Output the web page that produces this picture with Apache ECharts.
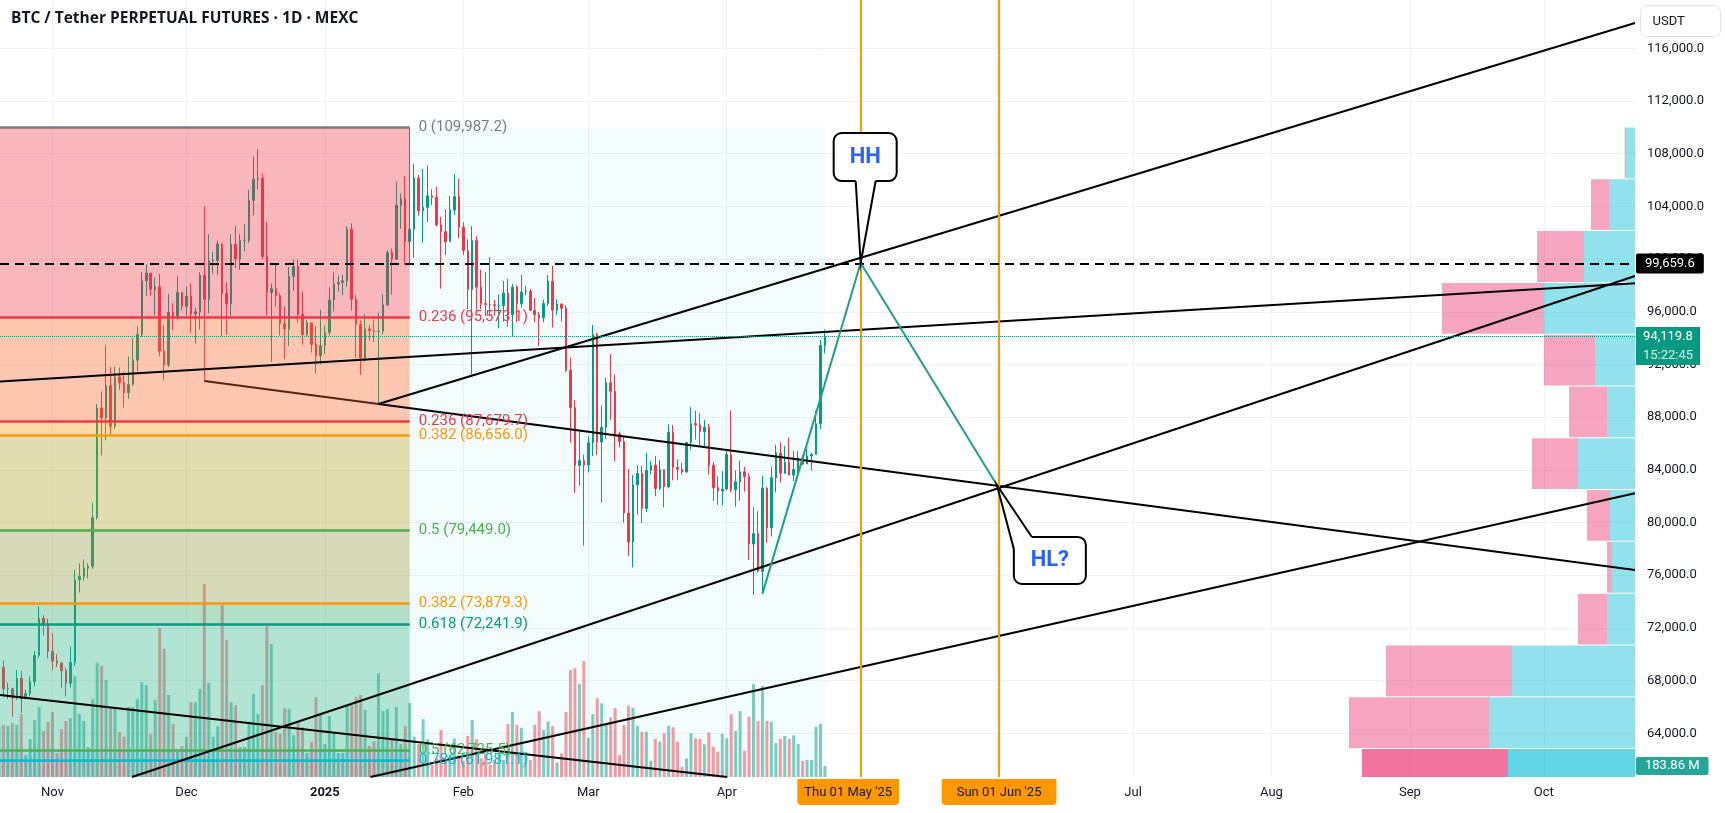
<!DOCTYPE html>
<html lang="en">
<head>
<meta charset="utf-8">
<title>BTC / Tether PERPETUAL FUTURES · 1D · MEXC</title>
<script src="https://cdn.jsdelivr.net/npm/echarts@6.0.0/dist/echarts.min.js"></script>
<style>
    html, body { margin: 0; padding: 0; background: #ffffff; }
    #chart { width: 1725px; height: 813px; }
</style>
</head>
<body>
<div id="chart"></div>
<script>
// 横轴用距 2024-11-01 的天数

// 日K线 2024-10-20 (第 -12 天) 到 2025-04-23, [open, high, low, close]
var firstDay = -12;
var ohlc = [
    [68360, 69400, 68100, 69000], [69000, 69500, 66800, 67370], [67370, 67850, 66600, 67380],
    [67380, 67450, 65260, 66680], [66680, 68800, 66550, 68160], [68160, 68750, 65550, 66640],
    [66640, 67300, 66580, 67010], [67010, 68300, 66800, 67930], [67930, 70250, 67550, 69900],
    [69900, 73620, 69740, 72720], [72720, 72970, 71440, 72340], [72340, 72700, 69690, 70220],
    // Nov
    [70220, 71600, 68780, 69480], [69480, 70000, 69040, 69330], [69330, 69400, 67460, 68750],
    [68750, 69000, 66800, 67800], [67800, 70570, 67470, 69370], [69370, 76400, 69100, 75640],
    [75640, 76900, 74700, 75900], [75900, 77200, 75570, 76540], [76540, 76900, 75750, 76670],
    [76670, 81500, 76480, 80370], [80370, 89000, 80230, 88700], [88700, 89950, 85080, 87950],
    [87950, 93480, 86250, 90400], [90400, 91800, 86700, 87300], [87300, 91850, 87100, 91050],
    [91050, 91770, 90050, 90600], [90600, 91450, 88720, 89850], [89850, 92600, 89400, 90470],
    [90470, 94000, 90400, 92320], [92320, 94900, 91500, 94290], [94290, 99000, 94110, 98350],
    [98350, 99600, 97200, 98920], [98920, 98950, 97200, 97700], [97700, 98600, 95730, 97900],
    [97900, 98880, 92600, 93010], [93010, 94970, 90790, 91960], [91960, 97360, 91800, 95960],
    [95960, 96650, 94600, 95640], [95640, 98700, 95350, 97460], [97460, 97480, 96100, 96410],
    // Dec
    [96410, 97900, 95700, 97190], [97190, 98150, 94400, 95840], [95840, 96300, 93580, 96000],
    [96000, 99000, 94650, 98770], [98770, 104000, 90700, 96950], [96950, 101900, 95900, 99870],
    [99870, 100550, 98900, 99900], [99900, 101400, 98800, 101150], [101150, 101200, 94150, 97380],
    [97380, 98250, 94250, 96600], [96600, 101880, 95650, 101110], [101110, 102540, 99300, 100000],
    [100000, 101900, 99200, 101420], [101420, 102650, 100600, 101420], [101420, 105250, 101230, 104460],
    [104460, 107800, 103330, 106060], [106060, 108350, 105300, 106130], [106130, 106500, 100000, 100200],
    [100200, 102800, 95700, 97460], [97460, 98150, 92200, 97750], [97750, 99540, 96400, 97220],
    [97220, 97400, 94200, 95100], [95100, 96400, 92400, 94690], [94690, 99400, 93400, 98680],
    [98680, 99960, 97600, 99430], [99430, 99950, 95150, 95800], [95800, 97550, 93500, 94270],
    [94270, 95400, 94100, 95160], [95160, 95200, 92900, 93530], [93530, 94900, 91300, 92640],
    [92640, 96150, 92000, 93430],
    // Jan
    [93430, 94950, 92800, 94420], [94420, 97850, 94200, 96890], [96890, 98980, 96020, 98110],
    [98110, 98750, 97530, 98230], [98230, 98800, 97270, 98350], [98350, 102500, 97900, 102280],
    [102280, 102720, 96100, 96950], [96950, 97250, 92500, 95040], [95040, 95350, 91200, 92490],
    [92490, 95830, 92200, 94700], [94700, 95000, 93800, 94560], [94560, 95400, 93700, 94500],
    [94500, 95900, 89050, 94520], [94520, 97350, 94300, 96530], [96530, 100700, 96450, 100500],
    [100500, 100800, 97300, 99990], [99990, 105900, 99950, 104080], [104080, 104980, 102300, 104560],
    [104560, 106300, 99600, 101330], [101330, 109987.2, 99550, 102260], [102260, 107250, 100100, 106140],
    [106140, 106400, 103300, 103660], [103660, 106850, 101250, 103930], [103930, 107100, 102800, 104800],
    [104800, 105300, 104100, 104700], [104700, 105500, 102500, 102600], [102600, 103200, 97750, 102080],
    [102080, 103800, 100300, 101330], [101330, 104800, 101300, 103730], [103730, 106450, 103350, 104740],
    [104740, 106100, 101600, 102430],
    // Feb
    [102430, 102800, 100300, 100640], [100640, 101500, 96200, 97690], [97690, 102500, 91230, 101400],
    [101400, 101750, 96150, 97870], [97870, 99200, 96200, 96620], [96620, 99000, 95650, 96560],
    [96560, 100150, 95650, 96540], [96540, 96900, 95700, 96480], [96480, 97300, 94750, 96480],
    [96480, 98340, 95250, 97430], [97430, 98500, 94850, 95780], [95780, 98120, 94100, 97870],
    [97870, 98000, 95200, 96620], [96620, 98800, 96300, 97500], [97500, 97970, 97250, 97570],
    [97570, 97730, 96050, 96120], [96120, 97050, 95200, 95770], [95770, 96000, 93400, 95540],
    [95540, 96900, 95200, 96630], [96630, 98780, 96450, 98330], [98330, 99500, 94800, 96130],
    [96130, 96950, 95750, 96580], [96580, 96660, 95250, 96270], [96270, 96500, 91400, 91550],
    [91550, 92500, 86050, 88730], [88730, 89300, 82250, 84340], [84340, 87050, 82800, 84700],
    [84700, 85150, 78250, 84370],
    // Mar
    [84370, 86550, 83800, 86060], [86060, 95000, 85050, 94270], [94270, 94420, 85120, 86120],
    [86120, 88900, 81500, 87220], [87220, 91000, 86350, 90620], [90620, 92800, 87800, 89960],
    [89960, 91250, 84650, 86740], [86740, 86900, 85700, 86150], [86150, 86500, 80000, 80730],
    [80730, 84050, 77450, 78530], [78530, 83600, 76600, 82860], [82860, 84350, 80600, 83720],
    [83720, 84300, 79950, 81070], [81070, 85300, 80800, 83960], [83960, 84670, 83650, 84340],
    [84340, 85050, 82000, 82580], [82580, 84750, 82450, 84010], [84010, 84020, 81150, 82720],
    [82720, 87450, 82600, 86850], [86850, 87400, 83200, 84170], [84170, 84800, 83200, 84040],
    [84040, 84550, 83650, 83830], [83830, 86100, 83800, 86080], [86080, 88750, 85550, 87500],
    [87500, 88500, 86300, 87400], [87400, 88300, 85850, 86900], [86900, 87800, 85800, 87230],
    [87230, 87500, 83650, 84350], [84350, 84600, 81650, 82650], [82650, 83500, 81350, 82390],
    [82390, 83900, 81300, 82550],
    // Apr
    [82550, 85500, 82450, 85160], [85160, 88500, 82300, 82500], [82500, 83950, 81200, 83100],
    [83100, 84700, 81650, 83850], [83850, 84230, 82350, 83500], [83500, 83750, 77150, 78370],
    [78370, 81200, 74500, 79150], [79150, 80850, 76200, 76300], [76300, 83550, 74600, 82600],
    [82600, 82700, 78450, 79600], [79600, 84250, 78950, 83400], [83400, 85900, 82300, 85280],
    [85280, 86100, 83050, 83750], [83750, 85800, 83700, 84550], [84550, 86450, 83600, 83600],
    [83600, 85450, 83150, 84030], [84030, 85450, 83750, 84900], [84900, 85100, 84350, 84450],
    [84450, 85600, 84450, 85060], [85060, 85300, 83950, 85170], [85170, 88500, 85150, 87500],
    [87500, 93850, 87100, 93440], [93440, 94650, 92850, 94119.8]
];

// 成交量 (M)
var volumes = [
    835, 870, 850, 900, 870, 1050, 365, 635, 950, 1170, 770, 920,
    1085, 400, 800, 935, 985, 1685, 1050, 935, 500, 1300, 1905, 1855, 1620, 1170, 1170,
    750, 670, 1170, 1170, 1300, 1585, 1535, 720, 1285, 2490, 2140, 1370, 885, 420, 520,
    670, 1250, 1250, 1470, 3225, 1570, 670, 850, 2870, 2290, 1250, 1200, 500, 500, 885,
    1385, 1050, 1535, 2520, 2220, 750, 720, 1150, 1135, 700, 935, 835, 400, 585, 1335, 1070,
    550, 1020, 735, 400, 400, 1200, 1200, 1335, 1370, 1120, 520, 600, 1735, 1100, 1135,
    620, 1170, 550, 850, 1235, 675, 550, 965, 630, 200, 310, 785, 285, 365, 645, 365,
    270, 685, 950, 635, 310, 395, 200, 285, 395, 285, 885, 1085, 870, 820, 420, 285, 870,
    1100, 785, 925, 850, 240, 395, 1085, 1785, 1815, 1555, 1935,
    655, 1050, 1315, 1230, 885, 995, 1150, 365, 870, 1190, 1155, 855, 755, 755, 270, 635,
    590, 730, 855, 830, 590, 170, 310, 730, 645, 635, 545, 745, 505, 420, 720,
    645, 1050, 770, 1100, 440, 1005, 1550, 935, 1520, 935, 920, 565, 635, 685, 635, 695,
    550, 270, 285, 285, 840, 885, 183.86
];

// 斐波那契标注
var fibRatios = ['0', '0.236', '0.236', '0.382', '0.5', '0.382', '0.618', '0.5', '0.786'];
var fibPrices = [109987.2, 95573.1, 87679.7, 86656.0, 79449.0, 73879.3, 72241.9, 62725.5, 61981.1];
// 两组斐波那契各自的分段边界
var fibA = [109987.2, 95573.1, 86656.0, 79449.0, 72241.9, 61981.1, 48911.2];
var fibB = [109987.2, 87679.7, 73879.3, 62725.5, 51572.0];
var fibAnchorDay = 80;      // 2025-01-20 高点
var rangeEndDay = 173;      // 2025-04-23

// 趋势线 [天数, 价格]
var trendLines = [
    [[73, 88998], [354.42, 117924]],
    [[-11.76, 90706], [354.42, 98162]],
    [[73, 88998], [354.42, 76390]],
    [[17.8, 60680], [354.42, 98716]],
    [[71.2, 60680], [354.42, 82219]],
    [[-11.76, 66906], [151.1, 60680]]
];
var lowerTrend = [[34, 90744], [73, 88998]];
var zigzag = [[159, 74600], [181, 99700], [211.5, 82850]];
var dateMarks = [181, 212];
var dashedLevel = 99659.6;
var calloutPoints = [[181, 99700], [211.5, 82850]];
var calloutTexts = ['HH', 'HL?'];

// 右侧成交量分布 (上涨/下跌)
var profileHigh = [109987, 106055, 102123, 98191, 94259, 90327, 86395, 82463, 78531, 74599, 70667, 66735, 62803];
var profileLow = [106055, 102123, 98191, 94259, 90327, 86395, 82463, 78531, 74599, 70667, 66735, 62803, 58871];
var profileUp = [9, 26, 51, 91, 40, 28, 57, 25, 23, 28, 123, 146, 127];
var profileDown = [1.3, 18, 47, 102, 51, 38, 46, 23, 5, 29, 126, 140, 146];

// 坐标轴刻度: 每月 1 日 (天数)
var monthTicks = [0, 30, 61, 92, 120, 151, 181, 212, 242, 273, 304, 334];
var monthLabels = ['Nov', 'Dec', '2025', 'Feb', 'Mar', 'Apr', 'Thu 01 May \'25', 'Sun 01 Jun \'25',
    'Jul', 'Aug', 'Sep', 'Oct'];
var priceTicks = [64000, 68000, 72000, 76000, 80000, 84000, 88000, 92000, 96000, 100000,
    104000, 108000, 112000, 116000];

var X_MIN = -11.76;
var X_MAX = 354.42;
var Y_MIN = 60680;
var Y_MAX = 119670;
var UP = '#089981';
var DOWN = '#f23645';
var FONT = 'Roboto, sans-serif';
var fibColor = {
    '0': '#787b86', '0.236': '#f23645', '0.382': '#ff9800', '0.5': '#4caf50',
    '0.618': '#089981', '0.786': '#00bcd4', '1': '#787b86'
};
var zoneColorsA = ['#f23645', '#ff9800', '#4caf50', '#089981', '#00bcd4', '#787b86'];
var zoneColorsB = ['#f23645', '#ff9800', '#4caf50', '#089981'];

function fmt1(v) {
    return v.toLocaleString('en-US', {minimumFractionDigits: 1, maximumFractionDigits: 1});
}

var candleData = ohlc.map(function (r, i) {
    return [firstDay + i, r[0], r[3], r[2], r[1]];
});
var volumeData = volumes.map(function (v, i) {
    var r = ohlc[i];
    return {
        value: [firstDay + i, v],
        itemStyle: {color: r[3] >= r[0] ? 'rgba(8,153,129,0.5)' : 'rgba(242,54,69,0.5)'}
    };
});

// 斐波那契底色分段
var zoneRows = [];
var zoneFill = [];
function addZones(bounds, colors) {
    for (var i = 0; i < bounds.length - 1; i++) {
        zoneRows.push([X_MIN, fibAnchorDay, bounds[i], Math.max(bounds[i + 1], Y_MIN)]);
        zoneFill.push(colors[i]);
    }
}
addZones(fibA, zoneColorsA);
addZones(fibB, zoneColorsB);

function clipToGrid(params, x0, y0, x1, y1) {
    var cs = params.coordSys;
    return echarts.graphic.clipRectByRect(
        {x: Math.min(x0, x1), y: Math.min(y0, y1), width: Math.abs(x1 - x0), height: Math.abs(y1 - y0)},
        {x: cs.x, y: cs.y, width: cs.width, height: cs.height}
    );
}

function renderZone(fills, opacity) {
    return function (params, api) {
        var p0 = api.coord([api.value(0), api.value(2)]);
        var p1 = api.coord([api.value(1), api.value(3)]);
        var rect = clipToGrid(params, p0[0], p0[1], p1[0], p1[1]);
        return rect && {
            type: 'rect',
            shape: rect,
            style: {fill: fills[params.dataIndex], opacity: opacity}
        };
    };
}

function renderProfile(params, api) {
    var i = params.dataIndex;
    var up = api.value(0);
    var down = api.value(1);
    var yTop = api.coord([0, api.value(2)])[1];
    var yBot = api.coord([0, api.value(3)])[1] - 1;
    var xR = api.coord([0, api.value(2)])[0];
    var xM = api.coord([up, api.value(2)])[0];
    var xL = api.coord([up + down, api.value(2)])[0];
    var hot = i === profileUp.length - 1;
    var a = clipToGrid(params, xM, yTop, xR, yBot);
    var b = clipToGrid(params, xL, yTop, xM, yBot);
    var children = [];
    if (a) {
        children.push({type: 'rect', shape: a,
            style: {fill: hot ? 'rgba(0,188,212,0.62)' : 'rgba(0,188,212,0.43)'}});
    }
    if (b) {
        children.push({type: 'rect', shape: b,
            style: {fill: hot ? 'rgba(233,30,99,0.62)' : 'rgba(233,30,99,0.4)'}});
    }
    return {type: 'group', children: children};
}

function renderCallout(params, api) {
    var tip = api.coord([api.value(0), api.value(1)]);
    var box;
    var base;
    var inner;
    if (params.dataIndex === 0) {
        box = {x: tip[0] - 27, y: tip[1] - 130, width: 63, height: 48};
        base = [[tip[0] - 5, box.y + box.height], [tip[0] + 15, box.y + box.height]];
        inner = [[base[1][0], base[1][1] - 3], [base[0][0], base[0][1] - 3]];
    } else {
        box = {x: tip[0] + 17, y: tip[1] + 52, width: 72, height: 47};
        base = [[box.x, box.y + 12], [box.x + 18, box.y]];
        inner = [[box.x + 18, box.y + 3], [box.x + 3, box.y + 3], [box.x + 3, box.y + 12]];
    }
    var tail = [base[0], tip, base[1]];
    return {
        type: 'group',
        children: [
            {type: 'rect', shape: {x: box.x, y: box.y, width: box.width, height: box.height, r: 8},
                style: {fill: '#ffffff', stroke: '#000000', lineWidth: 2}},
            {type: 'polygon', shape: {points: tail.concat(inner)}, style: {fill: '#ffffff'}},
            {type: 'polyline', shape: {points: tail}, style: {fill: null, stroke: '#000000', lineWidth: 2}},
            {type: 'text', style: {
                text: calloutTexts[params.dataIndex],
                x: box.x + box.width / 2, y: box.y + box.height / 2,
                align: 'center', verticalAlign: 'middle',
                fill: '#2962ff', font: 'bold 22px ' + FONT
            }}
        ]
    };
}

var fibLineData = fibPrices.map(function (p, i) {
    var c = fibColor[fibRatios[i]];
    return [
        {
            coord: [X_MIN, p],
            lineStyle: {color: c, width: 2.5, type: 'solid'},
            label: {
                show: true, position: 'end', distance: 9,
                formatter: fibRatios[i] + ' (' + fmt1(p) + ')',
                color: c, fontSize: 15, fontFamily: FONT
            }
        },
        {coord: [fibAnchorDay, p]}
    ];
});

var trendData = trendLines.map(function (seg) {
    return [{coord: seg[0]}, {coord: seg[1]}];
});

var lastClose = ohlc[ohlc.length - 1][3];
var lastVolume = volumes[volumes.length - 1];

var chart = echarts.init(document.getElementById('chart'), null, {renderer: 'canvas'});
var option = {
    animation: false,
    backgroundColor: '#ffffff',
    textStyle: {fontFamily: FONT},
    title: {
        text: 'BTC / Tether PERPETUAL FUTURES · 1D · MEXC',
        left: 11,
        top: 11,
        padding: 0,
        textStyle: {fontFamily: '"Open Sans", sans-serif', fontSize: 15.5, fontWeight: 'bold', color: '#131722'}
    },
    graphic: [{
        type: 'group',
        left: 1640,
        top: 5,
        children: [
            {type: 'rect', shape: {x: 0, y: 0, width: 80, height: 31, r: 6},
                style: {fill: '#ffffff', stroke: '#e0e3eb', lineWidth: 1}},
            {type: 'text', style: {text: 'USDT', x: 12, y: 16, verticalAlign: 'middle',
                fill: '#131722', font: '13px ' + FONT}}
        ]
    }],
    grid: {left: 0, right: 90, top: 0, bottom: 36, containLabel: false, outerBoundsMode: 'none'},
    xAxis: [{
        type: 'value',
        min: X_MIN,
        max: X_MAX,
        axisLine: {show: false},
        axisTick: {show: false, customValues: monthTicks},
        splitLine: {show: true, lineStyle: {color: '#f0f2f5', width: 1}},
        axisLabel: {
            customValues: monthTicks,
            margin: 2,
            formatter: function (value) {
                var i = monthTicks.indexOf(value);
                if (i < 0) {
                    return '';
                }
                var t = monthLabels[i];
                if (t === '2025') {
                    return '{b|' + t + '}';
                }
                if (t.indexOf('May') > 0) {
                    // 该标签在原图中略向左偏
                    return '{o|' + t + '}{s|}';
                }
                if (t.indexOf('Jun') > 0) {
                    return '{w|' + t + '}';
                }
                return '{n|' + t + '}';
            },
            rich: {
                n: {fontSize: 13, color: '#131722', padding: [7, 0, 6, 0], fontFamily: FONT},
                b: {fontSize: 13, color: '#131722', fontWeight: 'bold', padding: [7, 0, 6, 0], fontFamily: FONT},
                o: {fontSize: 13, color: '#131722', backgroundColor: '#ff9800', padding: [7, 7, 6, 7],
                    borderRadius: [0, 0, 4, 4], fontFamily: FONT},
                w: {fontSize: 13, color: '#131722', backgroundColor: '#ff9800', padding: [7, 15, 6, 15],
                    borderRadius: [0, 0, 4, 4], fontFamily: FONT},
                s: {width: 25, fontSize: 13}
            }
        }
    }, {
        type: 'value',
        min: 0,
        max: 1635,
        inverse: true,
        show: false
    }],
    yAxis: [{
        type: 'value',
        position: 'right',
        min: Y_MIN,
        max: Y_MAX,
        axisLine: {show: false},
        axisTick: {show: false, customValues: priceTicks},
        splitLine: {show: true, lineStyle: {color: '#f0f2f5', width: 1}},
        axisLabel: {
            customValues: priceTicks,
            margin: 12,
            color: '#131722',
            fontSize: 13,
            fontFamily: FONT,
            formatter: fmt1
        }
    }, {
        type: 'value',
        min: 0,
        max: 12976,
        show: false
    }],
    series: [
        {
            // 区间浅色底
            type: 'custom',
            name: 'range',
            z: 0,
            silent: true,
            renderItem: renderZone(['#00bcd4'], 0.05),
            encode: {x: [0, 1], y: [2, 3]},
            data: [[fibAnchorDay, rangeEndDay, fibPrices[0], Y_MIN]]
        },
        {
            type: 'bar',
            name: 'Volume',
            xAxisIndex: 0,
            yAxisIndex: 1,
            z: 1,
            barWidth: 3,
            silent: true,
            data: volumeData
        },
        {
            type: 'candlestick',
            name: 'BTCUSDT.P',
            z: 2,
            barWidth: 2,
            silent: true,
            encode: {x: 0, y: [1, 2, 3, 4]},
            itemStyle: {color: UP, color0: DOWN, borderColor: UP, borderColor0: DOWN, borderWidth: 1},
            data: candleData
        },
        {
            type: 'custom',
            name: 'VRVP',
            xAxisIndex: 1,
            yAxisIndex: 0,
            z: 2,
            silent: true,
            renderItem: renderProfile,
            encode: {x: [0, 1], y: [2, 3]},
            data: profileUp.map(function (u, i) {
                return [u, profileDown[i], profileHigh[i], profileLow[i]];
            })
        },
        {
            // 被斐波那契底色盖住的那段下降线
            type: 'line',
            name: 'lower trend',
            z: 3,
            silent: true,
            symbol: 'none',
            lineStyle: {color: '#000000', width: 2},
            data: lowerTrend
        },
        {
            type: 'custom',
            name: 'fib zones',
            z: 4,
            silent: true,
            renderItem: renderZone(zoneFill, 0.2),
            encode: {x: [0, 1], y: [2, 3]},
            data: zoneRows
        },
        {
            type: 'line',
            name: 'fib lines',
            data: [],
            clip: false,
            markLine: {
                silent: true,
                symbol: ['none', 'none'],
                animation: false,
                data: fibLineData
            }
        },
        {
            type: 'line',
            name: 'trend lines',
            data: [],
            markLine: {
                silent: true,
                symbol: ['none', 'none'],
                animation: false,
                label: {show: false},
                lineStyle: {color: '#000000', width: 2, type: 'solid'},
                data: trendData
            }
        },
        {
            type: 'line',
            name: 'date lines',
            data: [],
            markLine: {
                silent: true,
                symbol: ['none', 'none'],
                animation: false,
                label: {show: false},
                lineStyle: {color: '#ff9800', width: 2, type: 'solid'},
                data: dateMarks.map(function (d) {
                    return {xAxis: d};
                })
            }
        },
        {
            type: 'line',
            name: 'wave',
            z: 6,
            silent: true,
            symbol: 'none',
            lineStyle: {color: '#1f9e89', width: 2},
            data: zigzag
        },
        {
            type: 'line',
            name: 'price lines',
            data: [],
            clip: false,
            markLine: {
                silent: true,
                symbol: ['none', 'none'],
                animation: false,
                data: [
                    {
                        yAxis: dashedLevel,
                        lineStyle: {color: '#000000', width: 2, type: [9, 6]},
                        label: {
                            show: true, position: 'end', distance: 1,
                            formatter: fmt1(dashedLevel),
                            color: '#ffffff', backgroundColor: '#000000',
                            padding: [4, 9, 3, 9], borderRadius: 2, fontSize: 13, fontFamily: FONT
                        }
                    },
                    {
                        yAxis: lastClose,
                        lineStyle: {color: UP, width: 1, type: 'dotted'},
                        label: {
                            show: true, position: 'end', distance: 1,
                            formatter: '{g| }\n{p|' + fmt1(lastClose) + '}\n{t|15:22:45}',
                            rich: {
                                g: {height: 19, lineHeight: 19, fontSize: 13},
                                p: {backgroundColor: UP, color: '#ffffff', fontSize: 13, height: 19,
                                    lineHeight: 19, width: 56, padding: [0, 4, 0, 4], align: 'center',
                                    fontFamily: FONT},
                                t: {backgroundColor: UP, color: 'rgba(255,255,255,0.85)', fontSize: 13,
                                    height: 19, lineHeight: 19, width: 56, padding: [0, 4, 0, 4],
                                    align: 'center', fontFamily: FONT}
                            }
                        }
                    }
                ]
            }
        },
        {
            type: 'line',
            name: 'volume label',
            yAxisIndex: 1,
            data: [],
            clip: false,
            markLine: {
                silent: true,
                symbol: ['none', 'none'],
                animation: false,
                data: [{
                    yAxis: lastVolume,
                    lineStyle: {color: 'rgba(0,0,0,0)', width: 0},
                    label: {
                        show: true, position: 'end', distance: 1,
                        formatter: lastVolume.toFixed(2) + ' M',
                        color: '#ffffff', backgroundColor: '#26a69a',
                        padding: [3, 9, 2, 9], borderRadius: 2, fontSize: 13, fontFamily: FONT
                    }
                }]
            }
        },
        {
            type: 'custom',
            name: 'callouts',
            z: 10,
            silent: true,
            renderItem: renderCallout,
            encode: {x: 0, y: 1},
            data: calloutPoints
        }
    ]
};
chart.setOption(option);
</script>
</body>
</html>
